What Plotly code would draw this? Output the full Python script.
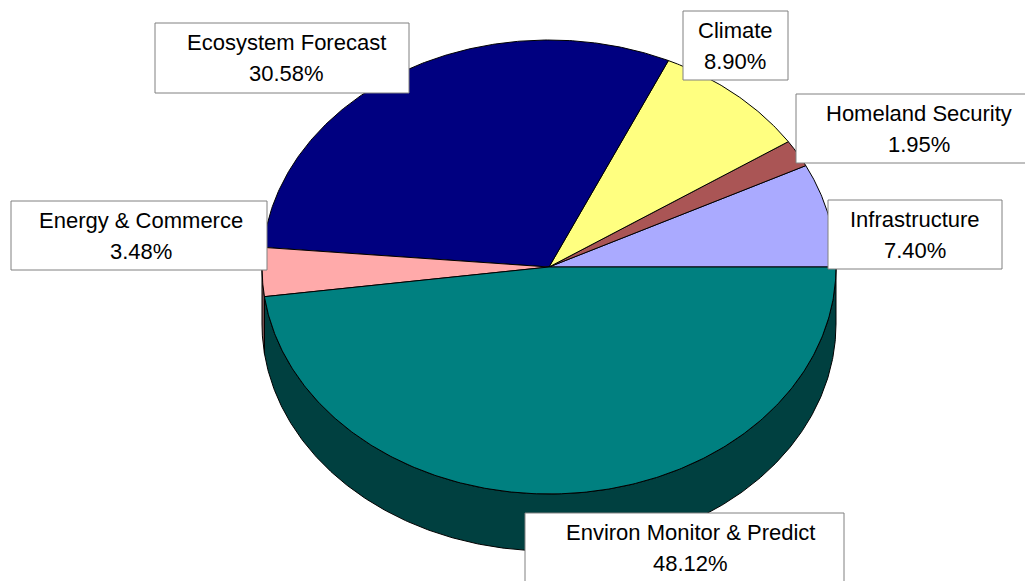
import numpy as np
import plotly.graph_objects as go

# ---- data (counter-clockwise from 3 o'clock) ----
categories = ["Infrastructure", "Homeland Security", "Climate",
              "Ecosystem Forecast", "Energy & Commerce", "Environ Monitor & Predict"]
values = [7.40, 1.95, 8.90, 30.58, 3.48, 48.12]
pct_labels = ["7.40%", "1.95%", "8.90%", "30.58%", "3.48%", "48.12%"]

# ---- styling ----
top_colors = ["#AAAAFF", "#AA5555", "#FFFF80", "#000080", "#FFAAAA", "#008080"]
side_colors = ["#555580", "#552A2A", "#808040", "#000040", "#805555", "#004040"]

W, H = 1025, 581
cx, cy, rx, ry, depth = 549, 267, 287, 227, 57

# label boxes: (x0, y0, x1, y1)
boxes = [(828, 200, 1002, 269), (796, 94, 1043, 163), (683, 11, 788, 80),
         (155, 23, 409, 93), (11, 201, 267, 270), (525, 513, 844, 582)]
text_x = [915, 919, 735, 286, 141, 690]

total = sum(values)
bounds = np.concatenate([[0], np.cumsum(values)]) / total * 360.0

fig = go.Figure()


def arc(a0, a1, off=0.0, n=None):
    if n is None:
        n = max(2, int(abs(a1 - a0) * 2) + 2)
    t = np.radians(np.linspace(a0, a1, n))
    return cx + rx * np.cos(t), cy - ry * np.sin(t) + off


# sides (front half: 180..360 degrees)
for i in range(len(values)):
    s0, s1 = max(bounds[i], 180.0), min(bounds[i + 1], 360.0)
    if s1 <= s0:
        continue
    xt, yt = arc(s0, s1)
    xb, yb = arc(s1, s0, depth)
    xs = np.concatenate([xt, xb, xt[:1]])
    ys = np.concatenate([yt, yb, yt[:1]])
    fig.add_trace(go.Scatter(x=xs, y=ys, mode="lines", fill="toself",
                             fillcolor=side_colors[i],
                             line=dict(color="black", width=1),
                             hoverinfo="skip", showlegend=False))

# top faces
for i in range(len(values)):
    xa, ya = arc(bounds[i], bounds[i + 1])
    xs = np.concatenate([[cx], xa, [cx]])
    ys = np.concatenate([[cy], ya, [cy]])
    fig.add_trace(go.Scatter(x=xs, y=ys, mode="lines", fill="toself",
                             fillcolor=top_colors[i],
                             line=dict(color="black", width=1),
                             hoverinfo="skip", showlegend=False,
                             name=categories[i]))

# labels
font = dict(family="Liberation Sans, Arial, sans-serif", size=22, color="black")
for i, (x0, y0, x1, y1) in enumerate(boxes):
    fig.add_shape(type="rect", xref="x", yref="y", x0=x0, y0=y0, x1=x1, y1=y1,
                  line=dict(color="#808080", width=1), fillcolor="white", layer="above")
    xc = text_x[i]
    ym = (y0 + y1) / 2
    fig.add_annotation(x=xc, y=ym - 15.5, xref="x", yref="y", text=categories[i],
                       showarrow=False, font=font, xanchor="center", yanchor="middle")
    fig.add_annotation(x=xc, y=ym + 15.5, xref="x", yref="y", text=pct_labels[i],
                       showarrow=False, font=font, xanchor="center", yanchor="middle")

fig.update_layout(
    width=W, height=H, margin=dict(l=0, r=0, t=0, b=0),
    paper_bgcolor="white", plot_bgcolor="white",
    xaxis=dict(range=[0, W], visible=False, fixedrange=True),
    yaxis=dict(range=[H, 0], visible=False, fixedrange=True),
    showlegend=False,
)

fig.write_html("out.html")
